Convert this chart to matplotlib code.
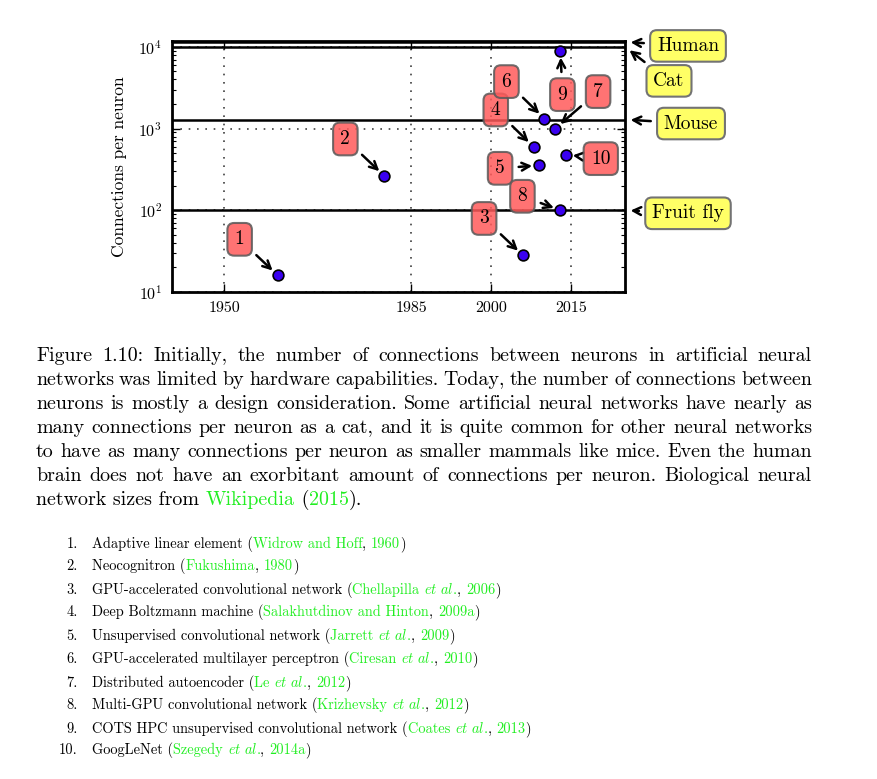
import matplotlib
matplotlib.use("Agg")
import matplotlib.pyplot as plt
import matplotlib.transforms as mtransforms

plt.rcParams["font.family"] = "cmr10"
plt.rcParams["mathtext.fontset"] = "cm"
plt.rcParams["axes.formatter.use_mathtext"] = True
plt.rcParams["axes.unicode_minus"] = False

# artificial networks
net_ids = ["1", "2", "3", "4", "5", "6", "7", "8", "9", "10"]
net_years = [1960, 1980, 2006, 2008, 2009, 2010, 2012, 2013, 2013, 2014]
net_conn = [16, 263, 28, 596, 355, 1325, 1000, 100, 9000, 480]

# biological reference lines
bio_names = ["Human", "Cat", "Mouse", "Fruit fly"]
bio_conn = [11500, 10000, 1290, 100]

year_ticks = [1950, 1985, 2000, 2015]

caption_lines = [
    "Figure 1.10: Initially, the number of connections between neurons in artificial neural",
    "networks was limited by hardware capabilities. Today, the number of connections between",
    "neurons is mostly a design consideration. Some artificial neural networks have nearly as",
    "many connections per neuron as a cat, and it is quite common for other neural networks",
    "to have as many connections per neuron as smaller mammals like mice. Even the human",
    "brain does not have an exorbitant amount of connections per neuron. Biological neural",
]
caption_last = "network sizes from "
caption_cite = "Wikipedia"
caption_year = "2015"

ref_titles = [
    "Adaptive linear element",
    "Neocognitron",
    "GPU-accelerated convolutional network",
    "Deep Boltzmann machine",
    "Unsupervised convolutional network",
    "GPU-accelerated multilayer perceptron",
    "Distributed autoencoder",
    "Multi-GPU convolutional network",
    "COTS HPC unsupervised convolutional network",
    "GoogLeNet",
]
ref_authors = ["Widrow and Hoff", "Fukushima", "Chellapilla", "Salakhutdinov and Hinton",
               "Jarrett", "Ciresan", "Le", "Krizhevsky", "Coates", "Szegedy"]
ref_etal = [False, False, True, False, True, True, True, True, True, True]
ref_years = ["1960", "1980", "2006", "2009a", "2009", "2010", "2012", "2012", "2013", "2014a"]

# layout (pixels)
W, H = 877, 779
label_offsets = [(-38, 36), (-39, 37), (-39, 37), (-38, 37), (-39, -3),
                 (-38, 37), (43, 37), (-38, 14), (2, -44), (35, -4)]
bio_offsets = [(63, -4), (44, -34), (66, -4), (63, -3)]
GREEN = "#22ee22"

fig = plt.figure(figsize=(W / 100, H / 100), dpi=100)
ax = fig.add_axes([172 / W, 1 - 292 / H, 453 / W, 251 / H])

ax.set_yscale("log")
ax.set_xlim(1940.2, 2025.1)
ax.set_ylim(10, 11800)
ax.set_xticks(year_ticks)
ax.set_xticklabels([str(y) for y in year_ticks])
ax.grid(True, which="major", linestyle=(0, (1, 4)), color="0.25", lw=1.2)
for v in bio_conn:
    ax.axhline(v, color="black", lw=1.8, zorder=2)
for s in ax.spines.values():
    s.set_linewidth(2)
ax.tick_params(which="both", direction="in", top=True, right=True)
ax.tick_params(which="major", length=6, width=1, labelsize=11.5, pad=7)
ax.tick_params(which="minor", length=3, width=0.8)
ax.set_ylabel("Connections per neuron", fontsize=12.5)
ax.yaxis.set_label_coords(-0.10, 0.5)

ax.scatter(net_years, net_conn, s=60, color="#3a00f0", edgecolor="black", lw=1.2, zorder=5)

for nid, x, y, off in zip(net_ids, net_years, net_conn, label_offsets):
    ax.annotate(nid, (x, y), xytext=off, textcoords="offset pixels",
                ha="center", va="center", fontsize=14, zorder=6,
                bbox=dict(boxstyle="round,pad=0.38,rounding_size=0.35",
                          fc="#ff5a5a", ec="0.35", lw=1.5, alpha=0.85),
                arrowprops=dict(arrowstyle="->", color="black", lw=1.8,
                                shrinkA=4, shrinkB=5))

blend = mtransforms.blended_transform_factory(ax.transAxes, ax.transData)
for name, v, off in zip(bio_names, bio_conn, bio_offsets):
    ax.annotate(name, (1, v), xycoords=blend, xytext=off, textcoords="offset pixels",
                ha="center", va="center", fontsize=14, annotation_clip=False,
                bbox=dict(boxstyle="round,pad=0.35,rounding_size=0.35",
                          fc="#ffff66", ec="0.45", lw=1.5),
                arrowprops=dict(arrowstyle="->", color="black", lw=1.8,
                                shrinkA=4, shrinkB=4))

# text below the chart
ident = mtransforms.IdentityTransform()
renderer = fig.canvas.get_renderer()


def put(x, y, s, **kw):
    return fig.text(x, H - y, s, transform=ident, va="baseline", **kw)


def wid(t):
    return t.get_window_extent(renderer).width


cap_size = 14.4
x_left, x_right = 36, 812
y0, dy = 361, 24
for i, line in enumerate(caption_lines):
    words = line.split(" ")
    ts = [put(0, y0 + i * dy, w, fontsize=cap_size) for w in words]
    ws = [wid(t) for t in ts]
    gap = (x_right - x_left - sum(ws)) / (len(words) - 1)
    x = x_left
    for t, w in zip(ts, ws):
        t.set_x(x)
        x += w + gap

y = y0 + len(caption_lines) * dy
x = x_left
for s, c in [(caption_last, "black"), (caption_cite, GREEN), (" (", "black"),
             (caption_year, GREEN), (").", "black")]:
    t = put(x, y, s, fontsize=cap_size, color=c)
    x += wid(t)

ref_size = 10.4
ref_baselines = [548, 570, 594, 616, 640, 663, 687, 709, 733, 754]
for i in range(len(ref_titles)):
    yb = ref_baselines[i]
    put(78, yb, f"{i + 1}.", fontsize=ref_size, ha="right")
    segs = [(ref_titles[i] + " (", "black")]
    if ref_etal[i]:
        segs += [(ref_authors[i] + " ", GREEN), (r"$\mathit{et\ al.}$", GREEN)]
    else:
        segs += [(ref_authors[i], GREEN)]
    segs += [(", ", "black"), (ref_years[i], GREEN), (")", "black")]
    x = 92
    for s, c in segs:
        t = put(x, yb, s, fontsize=ref_size, color=c)
        x += wid(t)

fig.savefig("out.png", dpi=100)
